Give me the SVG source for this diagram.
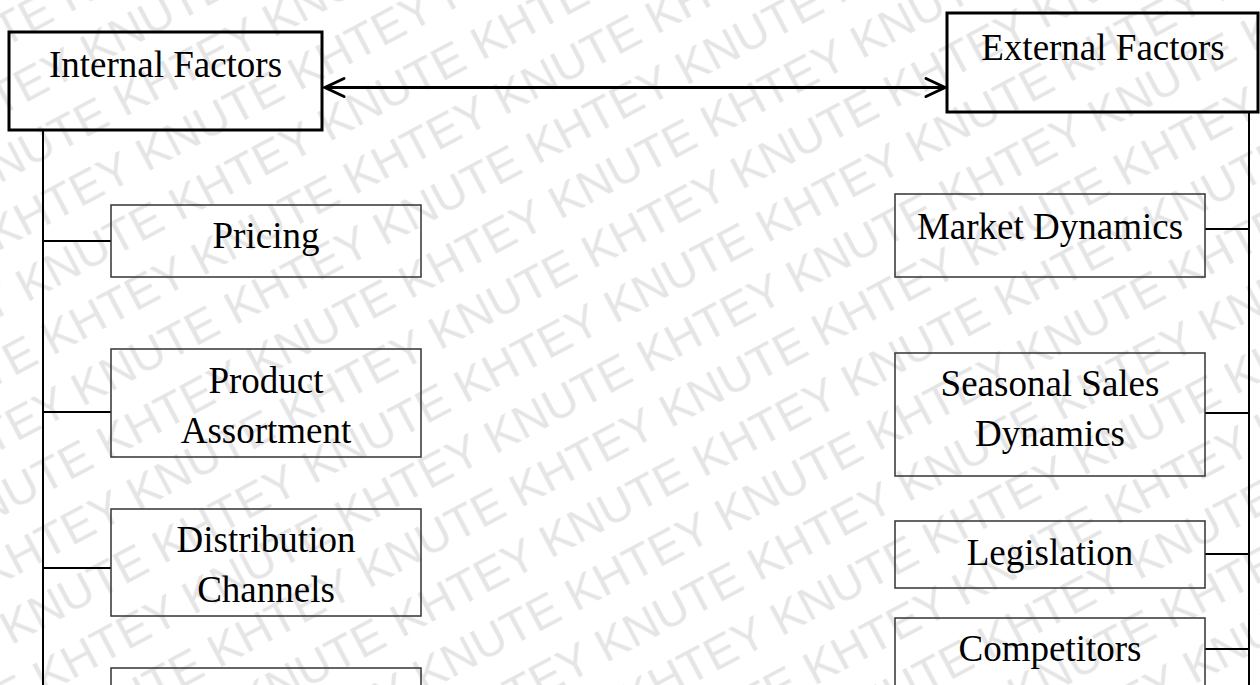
<svg xmlns="http://www.w3.org/2000/svg" width="1260" height="685" viewBox="0 0 1260 685">
<style>
.lbl{font-family:"Liberation Serif","Times New Roman",serif;font-size:37px;fill:#000;text-anchor:middle}
.wm{font-family:"Liberation Sans",Arial,sans-serif;font-size:47px;fill:#e5e5e5}
.main{fill:none;stroke:#000;stroke-width:3}
.sub{fill:none;stroke:#333;stroke-width:1.5}
.con{fill:none;stroke:#000;stroke-width:2}
</style>
<defs>
<pattern id="wmp" patternUnits="userSpaceOnUse" width="342" height="118" patternTransform="rotate(-28)">
<text class="wm" x="48.7" y="103.2">KNUTE KHTEY</text>
<text class="wm" x="-293.3" y="103.2">KNUTE KHTEY</text>
<text class="wm" x="54.7" y="44.2">KHTEY KNUTE</text>
<text class="wm" x="-287.3" y="44.2">KHTEY KNUTE</text>
</pattern>
<marker id="arr" markerUnits="userSpaceOnUse" viewBox="-22 -12 26 24" refX="0" refY="0" markerWidth="26" markerHeight="24" orient="auto-start-reverse" overflow="visible">
<path d="M-19,-9 L0,0 L-19,9" fill="none" stroke="#000" stroke-width="3" stroke-linecap="round" stroke-linejoin="miter"/>
</marker>
</defs>
<rect width="1260" height="685" fill="#fff"/>
<rect id="watermark" width="1260" height="685" fill="url(#wmp)"/>

<g id="connectors">
<line class="con" x1="43" y1="130" x2="43" y2="685"/>
<line class="con" x1="1249" y1="112" x2="1249" y2="685"/>
<line class="con" x1="43" y1="241" x2="111" y2="241"/>
<line class="con" x1="43" y1="412" x2="111" y2="412"/>
<line class="con" x1="43" y1="568" x2="111" y2="568"/>
<line class="con" x1="1205" y1="229" x2="1249" y2="229"/>
<line class="con" x1="1205" y1="413" x2="1249" y2="413"/>
<line class="con" x1="1205" y1="554" x2="1249" y2="554"/>
<line class="con" x1="1205" y1="649" x2="1249" y2="649"/>
<line x1="325" y1="87.5" x2="945" y2="87.5" stroke="#000" stroke-width="3" marker-start="url(#arr)" marker-end="url(#arr)"/>
</g>

<g id="internal">
<rect class="main" x="9" y="32" width="313" height="98"/>
<text class="lbl" x="165.5" y="77">Internal Factors</text>
</g>
<g id="external">
<rect class="main" x="947" y="13" width="311" height="99"/>
<text class="lbl" x="1103" y="60">External Factors</text>
</g>

<g id="pricing">
<rect class="sub" x="111" y="205" width="310" height="72"/>
<text class="lbl" x="266" y="248">Pricing</text>
</g>
<g id="product-assortment">
<rect class="sub" x="111" y="349" width="310" height="108"/>
<text class="lbl" x="266" y="393">Product</text>
<text class="lbl" x="266" y="443">Assortment</text>
</g>
<g id="distribution-channels">
<rect class="sub" x="111" y="509" width="310" height="107"/>
<text class="lbl" x="266" y="552">Distribution</text>
<text class="lbl" x="266" y="602">Channels</text>
</g>
<g id="internal-4">
<rect class="sub" x="111" y="668" width="310" height="40"/>
</g>

<g id="market-dynamics">
<rect class="sub" x="895" y="194" width="310" height="83"/>
<text class="lbl" x="1050" y="239">Market Dynamics</text>
</g>
<g id="seasonal-sales">
<rect class="sub" x="895" y="353" width="310" height="123"/>
<text class="lbl" x="1050" y="396">Seasonal Sales</text>
<text class="lbl" x="1050" y="446">Dynamics</text>
</g>
<g id="legislation">
<rect class="sub" x="895" y="521" width="310" height="67"/>
<text class="lbl" x="1050" y="565">Legislation</text>
</g>
<g id="competitors">
<rect class="sub" x="895" y="618" width="310" height="90"/>
<text class="lbl" x="1050" y="661">Competitors</text>
</g>
</svg>
